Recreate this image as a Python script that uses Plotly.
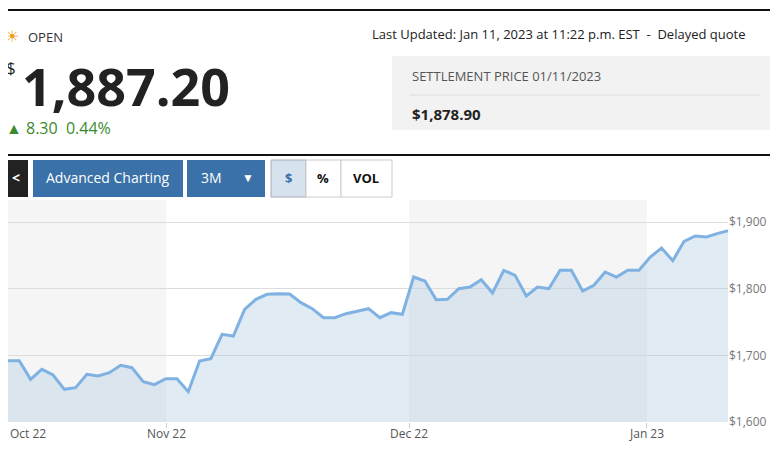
import plotly.graph_objects as go

prices = [1692,1692,1664,1679,1670.5,1649,1651.5,1671.5,1669,1674,1685,1681.5,1660.5,1656,1665,1665,1645.5,1691.5,1695,1731.5,1729,1769,1784,1791.5,1792.5,1792,1779,1770,1756.5,1756.5,1762.5,1766.5,1770,1756.5,1764,1761.5,
          1817.5,1811.5,1783.5,1784,1800,1802.5,1813.5,1793.5,1827.5,1820,1789,1802.5,1800,1827.5,1827.5,1796.5,1805,1825,1817.5,1827.5,1827.5,1847.5,1861,1842,1871,1879,1877.5,1883,1887.2]
xs = list(range(len(prices)))
tick_pos = [-0.35, 14.05, 35.6, 56.7]
tick_labels = ["Oct 22", "Nov 22", "Dec 22", "Jan 23"]
y_ticks = [1600, 1700, 1800, 1900]
y_labels = ["$1,600", "$1,700", "$1,800", "$1,900"]

OFF = 8  # page offset
W, H = 770, 443
L, R, T, B = 0, 50, 192, 29
PW, PH = W - L - R, H - T - B
fig = go.Figure()
fig.add_trace(go.Scatter(x=xs, y=prices, mode="lines", fill="tozeroy",
                         line=dict(color="#7fb2e3", width=3), fillcolor="rgba(180,205,225,0.4)",
                         hoverinfo="skip"))
for a, b in [(tick_pos[0], tick_pos[1]), (tick_pos[2], tick_pos[3])]:
    fig.add_vrect(x0=a, x1=b, fillcolor="#f5f5f5", line_width=0, layer="below")

fig.update_layout(
    width=W, height=H, margin=dict(l=L, r=R, t=T, b=B),
    paper_bgcolor="white", plot_bgcolor="white", showlegend=False,
    font=dict(family="Open Sans", color="#333"),
    xaxis=dict(range=[0, 63.9], tickvals=tick_pos[1:], ticktext=["", "", ""], showgrid=False,
               ticks="outside", ticklen=5, tickcolor="#ccc", zeroline=False),
    yaxis=dict(range=[1600, 1933], side="right", tickvals=y_ticks, ticktext=y_labels,
               gridcolor="#dcdcdc", tickfont=dict(size=12, color="#777"), zeroline=False),
)

def px(x): return (x - OFF - L) / PW
def py(y): return 1 - (y - OFF - T) / PH
ann = []
def text(x, y, t, size, color="#222", xa="left", bold=False, fam="Open Sans"):
    ann.append(dict(x=px(x), y=py(y), xref="paper", yref="paper", text=("<b>%s</b>" % t) if bold else t,
                    showarrow=False, xanchor=xa, yanchor="middle", font=dict(size=size, color=color, family=fam)))
for i, (p, lab) in enumerate(zip(tick_pos, tick_labels)):
    ann.append(dict(x=max(p, 0), y=py(433), xref="x", yref="paper", text=lab, showarrow=False,
                    xanchor="left" if i == 0 else "center", yanchor="middle",
                    font=dict(size=12, color="#555")))
shapes = []
def rect(x0, y0, x1, y1, fill, line=None):
    shapes.append(dict(type="rect", xref="paper", yref="paper", x0=px(x0), x1=px(x1), y0=py(y1), y1=py(y0),
                       fillcolor=fill, line=dict(width=1 if line else 0, color=line or fill)))
def hline(x0, x1, y, color, w):
    shapes.append(dict(type="line", xref="paper", yref="paper", x0=px(x0), x1=px(x1), y0=py(y), y1=py(y),
                       line=dict(color=color, width=w)))

hline(0, 778, 10, "#111", 2)
hline(0, 778, 155, "#111", 2)
text(3, 36, "☀", 16, "#f0a020")
text(26, 37, "OPEN", 13, "#333")
text(370, 34, "Last Updated: Jan 11, 2023 at 11:22 p.m. EST  -  Delayed quote", 13, "#222")
text(4, 68, "$", 17, "#222")
text(20, 86, "1,887.20", 52, "#222", bold=True)
text(4, 128, "▲ 8.30  0.44%", 16, "#3b8a2e")
rect(392, 56, 778, 130, "#f2f2f2")
hline(410, 760, 95, "#ddd", 1)
text(410, 76, "SETTLEMENT PRICE 01/11/2023", 13, "#555")
text(410, 114, "$1,878.90", 15, "#222", bold=True)
rect(4, 160, 28, 197, "#222")
text(16, 178, "<", 14, "white", xa="center", bold=True)
rect(33, 160, 183, 197, "#3a71a8")
text(108, 178, "Advanced Charting", 14, "white", xa="center")
rect(187, 160, 265, 197, "#3a71a8")
text(211, 178, "3M", 14, "white", xa="center")
text(248, 178, "▼", 12, "white", xa="center")
rect(271, 160, 306, 197, "#d6e3ef", "#aab")
rect(306, 160, 341, 197, "white", "#ccc")
rect(341, 160, 392, 197, "white", "#ccc")
text(288, 178, "$", 13, "#3a71a8", xa="center", bold=True)
text(323, 178, "%", 13, "#111", xa="center", bold=True)
text(366, 178, "VOL", 13, "#111", xa="center", bold=True)
fig.update_layout(annotations=ann, shapes=list(fig.layout.shapes) + shapes)
fig.write_html("out.html")
